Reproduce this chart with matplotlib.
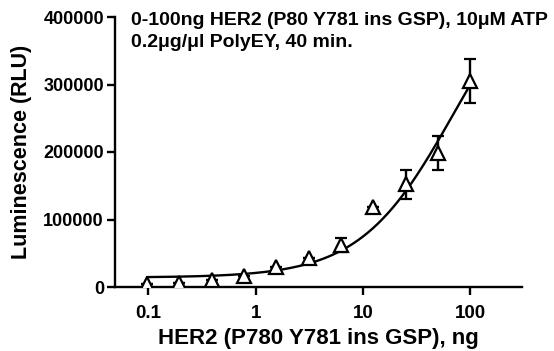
import matplotlib
matplotlib.use("Agg")
import matplotlib.pyplot as plt
import numpy as np

plt.rcParams['font.family'] = ['Liberation Sans', 'DejaVu Sans']
plt.rcParams['font.weight'] = 'bold'

# HER2 amount (ng), 2-fold dilution series
her2_ng = [0.098, 0.195, 0.39, 0.78, 1.5625, 3.125, 6.25, 12.5, 25, 50, 100]
# mean luminescence (RLU) and error
rlu_mean = [4000, 6400, 10400, 16800, 29000, 43400, 62000, 119000, 152000, 198000, 305000]
rlu_err = [0, 0, 0, 0, 0, 0, 10000, 0, 22000, 25000, 33000]

# fitted 4PL parameters (bottom, top, EC50, hill)
fit_bottom = 14000
fit_top = 500000
fit_ec50 = 70
fit_hill = 1.0

fig = plt.figure(figsize=(5.54, 3.51), dpi=100)
ax = fig.add_axes([115 / 554, 1 - 287 / 351, (522 - 115) / 554, (287 - 17) / 351])

xs = np.logspace(np.log10(her2_ng[0]), np.log10(her2_ng[-1]), 200)
ys = fit_bottom + (fit_top - fit_bottom) / (1 + (fit_ec50 / xs) ** fit_hill)
ax.plot(xs, ys, color='black', lw=1.7)

ax.errorbar(her2_ng, rlu_mean, yerr=rlu_err, fmt='^', ms=10.5, mfc='white',
            mec='black', mew=1.6, ecolor='black', elinewidth=1.7, capsize=4.5,
            capthick=1.7, zorder=3)

ax.set_xscale('log')
ax.set_xlim(0.049, 303)
ax.set_ylim(0, 400000)
ax.set_xticks([0.1, 1, 10, 100])
ax.set_xticklabels(['0.1', '1', '10', '100'])
ax.xaxis.set_minor_locator(matplotlib.ticker.NullLocator())
ax.set_yticks([0, 100000, 200000, 300000, 400000])
ax.set_yticklabels(['0', '100000', '200000', '300000', '400000'])

for s in ['top', 'right']:
    ax.spines[s].set_visible(False)
for s in ['left', 'bottom']:
    ax.spines[s].set_linewidth(1.7)
ax.tick_params(axis='both', width=1.7, length=6, labelsize=13, pad=2)
ax.tick_params(axis='x', labelsize=13.5, pad=7)

ax.set_xlabel('HER2 (P780 Y781 ins GSP), ng', fontsize=16, fontweight='bold', labelpad=4)
ax.set_ylabel('Luminescence (RLU)', fontsize=15.5, fontweight='bold')
ax.yaxis.set_label_coords(-0.205, 0.5)

fig.text(131 / 554, 1 - 25 / 351, '0-100ng HER2 (P80 Y781 ins GSP), 10\u03bcM ATP',
         fontsize=14, fontweight='bold', va='baseline')
fig.text(131 / 554, 1 - 47 / 351, '0.2\u03bcg/\u03bcl PolyEY, 40 min.',
         fontsize=14, fontweight='bold', va='baseline')

fig.savefig('out.png', dpi=100)
